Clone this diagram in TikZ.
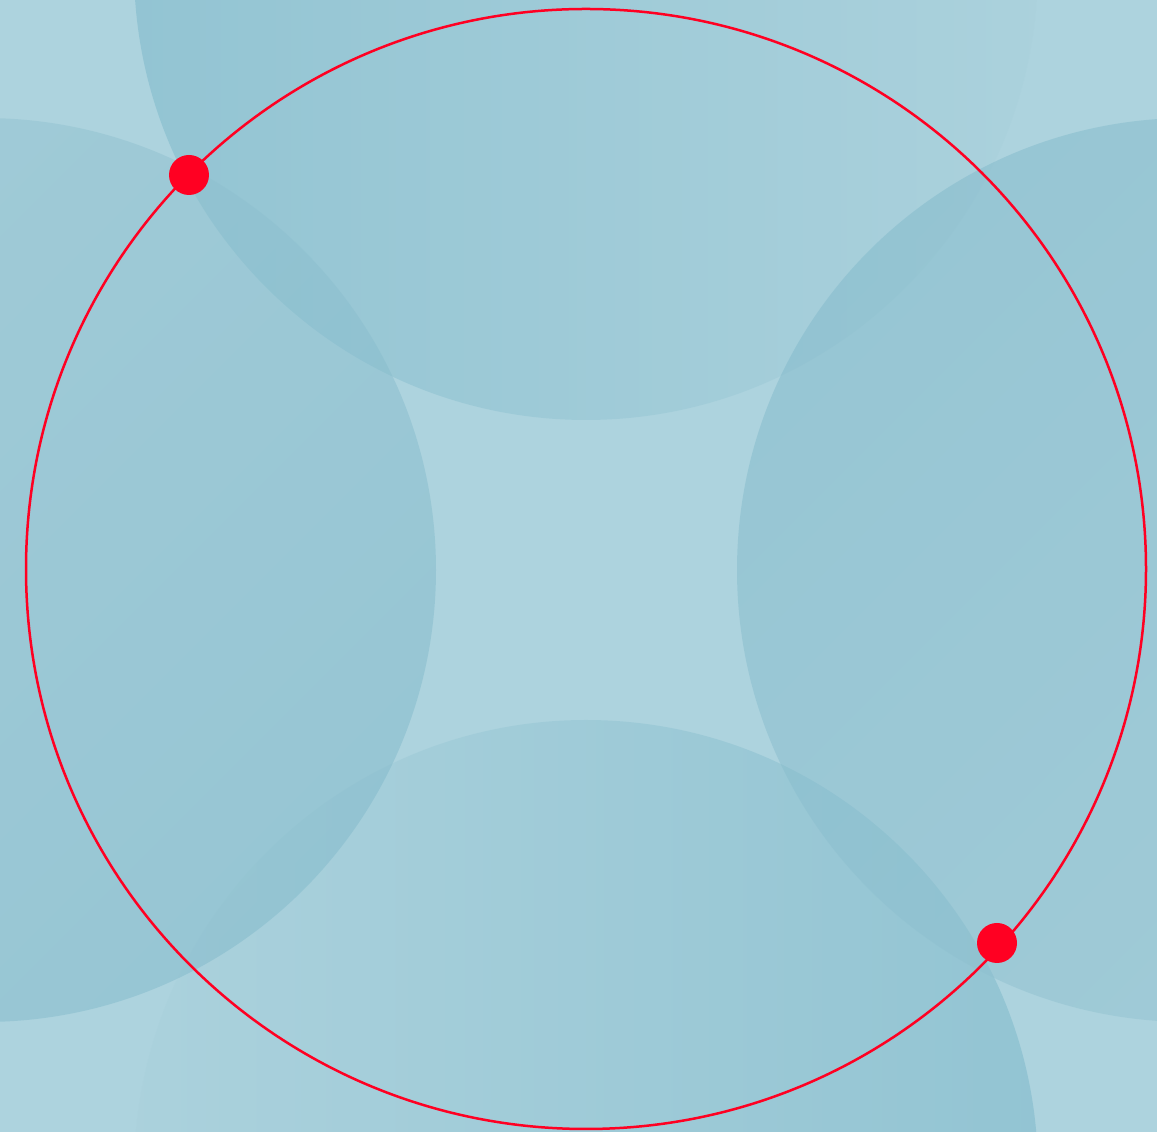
\documentclass[tikz,border=0pt]{standalone}
\begin{document}
\begin{tikzpicture}[x=0.02cm,y=0.02cm]
\definecolor{bgblue}{RGB}{173,211,222}
\definecolor{lightfill}{RGB}{170,209,220}
\definecolor{midfill}{RGB}{150,196,210}
\definecolor{sidedark}{RGB}{130,186,203}
\definecolor{darkfill}{RGB}{122,183,201}
\definecolor{ringred}{RGB}{255,0,34}
\tikzset{
  bubble/.style={opacity=0.5},
  ring/.style={draw=ringred, line width=0.05cm},
  dot/.style={circle, fill=ringred, inner sep=0pt, minimum size=0.8cm}
}
\useasboundingbox (0,0) rectangle (1157,1132);
\clip (0,0) rectangle (1157,1132);
\fill[bgblue] (0,0) rectangle (1157,1132);
% four circles
\shade[bubble, left color=darkfill, right color=lightfill] (586,1164) circle (452);
\shade[bubble, left color=lightfill, right color=darkfill] (586,-40) circle (452);
\shade[bubble, top color=midfill, bottom color=sidedark, shading angle=45] (-16,562) circle (452);
\shade[bubble, top color=sidedark, bottom color=midfill, shading angle=45] (1189,562) circle (452);
% red circle and points
\coordinate (c) at (586,563);
\draw[ring] (c) circle (560);
\node[dot] (p1) at (189,957) {};
\node[dot] (p2) at (997,189) {};
\end{tikzpicture}
\end{document}
